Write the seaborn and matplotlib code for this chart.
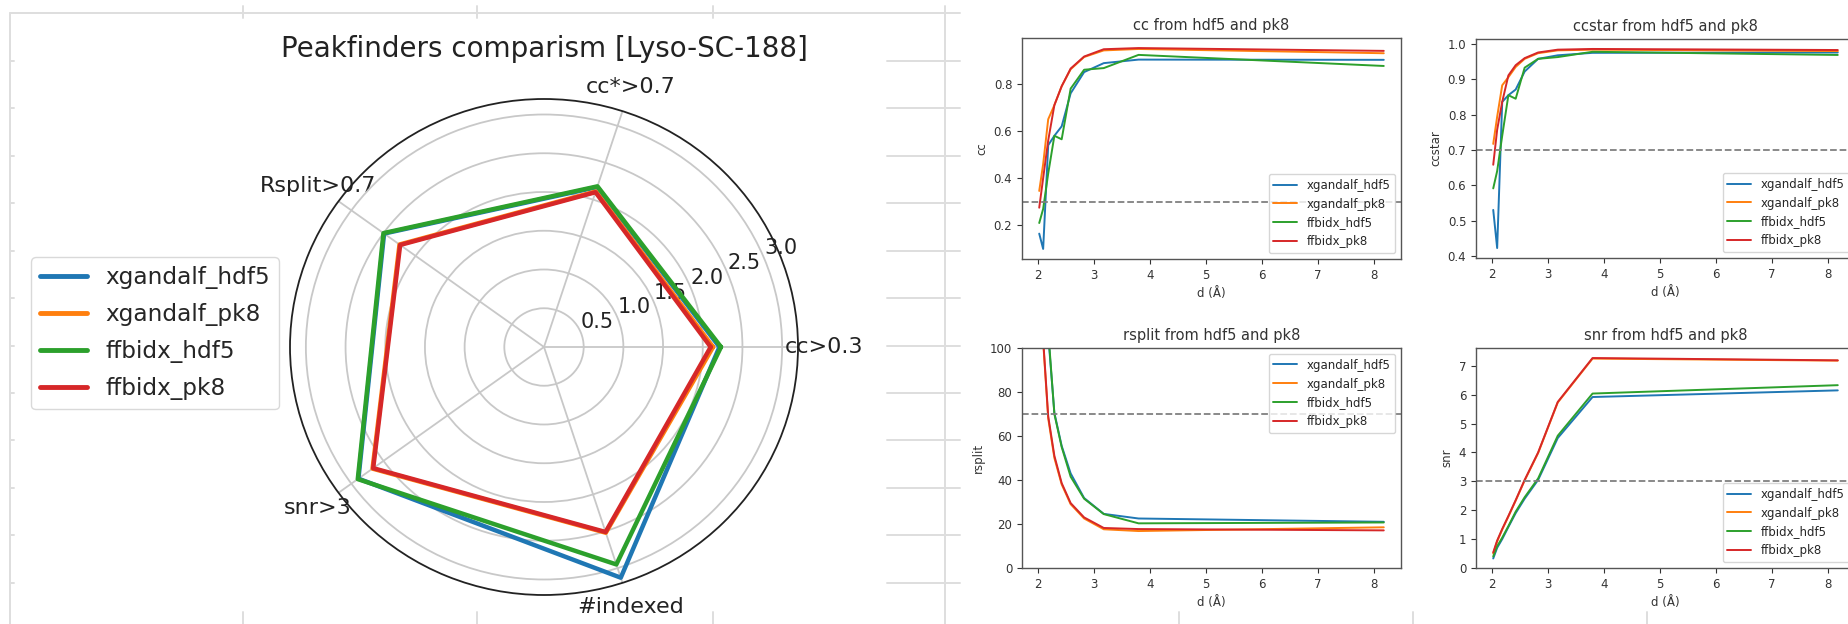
import numpy as np
import pandas as pd
import matplotlib
matplotlib.use("Agg")
import matplotlib.pyplot as plt
from matplotlib.lines import Line2D
import seaborn as sns

# ---------------- data ----------------
series = ["xgandalf_hdf5", "xgandalf_pk8", "ffbidx_hdf5", "ffbidx_pk8"]
colors = ["#1f77b4", "#ff7f0e", "#2ca02c", "#d62728"]

radar_labels = ["cc>0.3", "cc*>0.7", "Rsplit>0.7", "snr>3", "#indexed"]
radar_xg_hdf5 = [2.21, 2.17, 2.49, 2.89, 3.13]
radar_xg_pk8 = [2.13, 2.11, 2.25, 2.67, 2.52]
radar_ff_hdf5 = [2.23, 2.18, 2.50, 2.90, 2.95]
radar_ff_pk8 = [2.10, 2.10, 2.24, 2.66, 2.51]
radar_ticks = [0.5, 1.0, 1.5, 2.0, 2.5, 3.0]

d = [2.03, 2.10, 2.19, 2.30, 2.43, 2.59, 2.83, 3.18, 3.80, 8.17]

cc_xg_hdf5 = [0.165, 0.10, 0.54, 0.58, 0.62, 0.76, 0.85, 0.888, 0.903, 0.902]
cc_xg_pk8 = [0.346, 0.46, 0.65, 0.71, 0.79, 0.862, 0.914, 0.942, 0.948, 0.930]
cc_ff_hdf5 = [0.21, 0.27, 0.42, 0.58, 0.565, 0.78, 0.86, 0.867, 0.923, 0.876]
cc_ff_pk8 = [0.275, 0.40, 0.56, 0.71, 0.79, 0.865, 0.916, 0.947, 0.952, 0.940]

ccstar_xg_hdf5 = [0.530, 0.422, 0.836, 0.855, 0.871, 0.922, 0.958, 0.968, 0.975, 0.976]
ccstar_xg_pk8 = [0.717, 0.794, 0.883, 0.906, 0.935, 0.958, 0.974, 0.982, 0.984, 0.980]
ccstar_ff_hdf5 = [0.591, 0.64, 0.74, 0.855, 0.845, 0.933, 0.958, 0.963, 0.978, 0.969]
ccstar_ff_pk8 = [0.658, 0.757, 0.836, 0.911, 0.94, 0.96, 0.976, 0.984, 0.986, 0.983]

rsplit_xg_hdf5 = [240, 155, 106, 70.5, 55.5, 43, 31.8, 24.6, 22.5, 21.0]
rsplit_xg_pk8 = [158, 103, 68, 50, 38, 29, 22.5, 17.6, 16.8, 18.5]
rsplit_ff_hdf5 = [250, 160, 108, 70, 55, 41.5, 31.5, 24.5, 20.3, 20.7]
rsplit_ff_pk8 = [160, 104, 69, 51, 38.6, 29.5, 23, 18.2, 17.7, 17.1]

snr_xg_hdf5 = [0.33, 0.70, 1.00, 1.42, 1.90, 2.40, 3.05, 4.50, 5.92, 6.15]
snr_xg_pk8 = [0.50, 0.92, 1.33, 1.78, 2.33, 3.03, 3.98, 5.73, 7.25, 7.18]
snr_ff_hdf5 = [0.40, 0.75, 1.05, 1.45, 1.95, 2.45, 3.10, 4.58, 6.04, 6.33]
snr_ff_pk8 = [0.54, 0.95, 1.35, 1.80, 2.35, 3.05, 4.00, 5.75, 7.27, 7.19]

panels = [
    ("cc", [cc_xg_hdf5, cc_xg_pk8, cc_ff_hdf5, cc_ff_pk8], 0.3, "lower right"),
    ("ccstar", [ccstar_xg_hdf5, ccstar_xg_pk8, ccstar_ff_hdf5, ccstar_ff_pk8], 0.7, "lower right"),
    ("rsplit", [rsplit_xg_hdf5, rsplit_xg_pk8, rsplit_ff_hdf5, rsplit_ff_pk8], 70, "upper right"),
    ("snr", [snr_xg_hdf5, snr_xg_pk8, snr_ff_hdf5, snr_ff_pk8], 3, "lower right"),
]

# ---------------- style ----------------
sns.set_style("ticks")
plt.rcParams["font.family"] = ["DejaVu Sans"]

W, H = 1848, 624
fig = plt.figure(figsize=(W / 100, H / 100), dpi=100)
fig.patch.set_facecolor("white")


def px(x, y):
    return x / W, 1 - y / H


def fline(x0, y0, x1, y1, c="#dedede", lw=1.4):
    (a, b), (c2, d2) = px(x0, y0), px(x1, y1)
    fig.add_artist(Line2D([a, c2], [b, d2], color=c, lw=lw, transform=fig.transFigure, zorder=0))


# faint background frame / ticks of the screenshot
fline(10, 13, 960, 13)
fline(10, 13, 10, 624)
fline(945, 6, 945, 624)
for yy in [61, 108, 156, 203, 251, 298, 346, 393, 440, 488, 535, 583]:
    fline(10, yy, 14, yy)
    fline(887, yy, 960, yy)
for xx in [243, 477, 713]:
    fline(xx, 6, xx, 18)
    fline(xx, 612, xx, 624)
for xx in [1179, 1413, 1647]:
    fline(xx, 612, xx, 624)

# ---------------- radar ----------------
cx, cy, RX, RY = 544, 347, 254, 248
pax = fig.add_axes([(cx - RX) / W, 1 - (cy + RY) / H, 2 * RX / W, 2 * RY / H], projection="polar")
pax.set_aspect("auto")
n = len(radar_labels)
angles = np.linspace(0, 2 * np.pi, n, endpoint=False)
ang_closed = np.append(angles, angles[0] + 2 * np.pi)
for name, vals, col in zip(series, [radar_xg_hdf5, radar_xg_pk8, radar_ff_hdf5, radar_ff_pk8], colors):
    r = np.append(vals, vals[0])
    sns.lineplot(x=ang_closed, y=r, ax=pax, sort=False, color=col, lw=3.2, label=name)
pax.set_xticks(angles)
pax.set_xticklabels(radar_labels, fontsize=16, color="#222222")
pax.set_yticks(radar_ticks)
pax.set_yticklabels([f"{t:.1f}" for t in radar_ticks], fontsize=15, color="#222222")
pax.set_ylim(0, 3.2)
pax.set_rlabel_position(22.5)
pax.grid(True, color="#c8c8c8", lw=1.3)
pax.spines["polar"].set_color("#222222")
pax.spines["polar"].set_linewidth(1.3)
pax.set_xlabel("")
pax.set_ylabel("")
pax.tick_params(axis="x", pad=8)
pax.set_title("Peakfinders comparism [Lyso-SC-188]", fontsize=20, color="#222222", pad=30)
leg = pax.legend(loc="upper left", bbox_to_anchor=px(31, 257), bbox_transform=fig.transFigure,
                 borderaxespad=0, fontsize=16.7, labelspacing=0.6, frameon=True)
for lh in leg.get_lines():
    lh.set_linewidth(3.5)
leg.get_frame().set_edgecolor("#d0d0d0")

# ---------------- line panels ----------------
boxes = [
    (1022, 38, 1401, 259),
    (1476, 39, 1855, 258),
    (1022, 348, 1401, 568),
    (1476, 348, 1855, 568),
]
for (ylab, data, thr, legloc), (x0, y0, x1, y1) in zip(panels, boxes):
    ax = fig.add_axes([x0 / W, 1 - y1 / H, (x1 - x0) / W, (y1 - y0) / H])
    for name, vals, col in zip(series, data, colors):
        sns.lineplot(x=d, y=vals, ax=ax, color=col, lw=1.4, label=name)
    if ylab == "rsplit":
        ax.set_ylim(0, 100)
    if ylab == "snr":
        ax.set_ylim(bottom=0)
    ax.axhline(thr, color="gray", ls="--", lw=1.3)
    ax.set_title(f"{ylab} from hdf5 and pk8", fontsize=10.5, color="#333333")
    ax.set_xlabel("d (Å)", fontsize=8.5, color="#333333")
    ax.set_ylabel(ylab, fontsize=8.5, color="#333333")
    ax.set_xticks([2, 3, 4, 5, 6, 7, 8])
    ax.tick_params(labelsize=8.5, colors="#333333", length=3.5, width=0.8)
    for s in ax.spines.values():
        s.set_color("#555555")
        s.set_linewidth(1.0)
    ax.legend(loc=legloc, fontsize=8.5, frameon=True)

fig.savefig("out.png", dpi=100, facecolor="white")
